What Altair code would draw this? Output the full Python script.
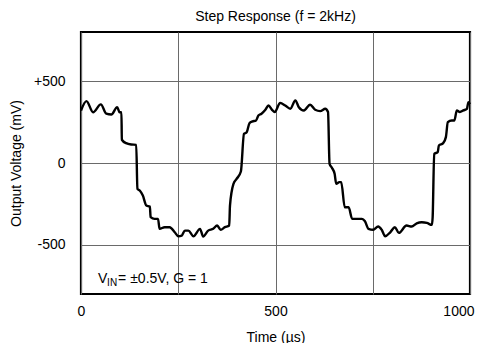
import altair as alt
import pandas as pd

# Time (µs) and output voltage (mV)
time_us = [0, 14, 31, 51, 65, 78, 93, 99, 104, 105, 116, 129, 142, 145, 151, 159, 168, 177, 179, 189,
           198, 202, 215, 228, 241, 250, 259, 267, 276, 289, 306, 314, 327, 340, 350, 359, 370, 381, 383, 392,
           400, 411, 419, 426, 433, 441, 450, 456, 464, 474, 482, 491, 498, 512, 525, 538, 551, 560, 573, 589,
           602, 615, 628, 635, 639, 645, 652, 656, 664, 669, 678, 688, 697, 710, 722, 730, 739, 751, 764, 773,
           782, 795, 807, 817, 837, 850, 863, 876, 889, 902, 904, 908, 917, 920, 931, 938, 943, 953, 960, 966,
           974, 983, 992, 996, 1000]
volt_mv = [320, 378, 310, 358, 301, 296, 341, 310, 310, 142, 121, 113, 111, -158, -168, -199, -260, -266, -331, -341,
           -341, -402, -392, -392, -423, -447, -443, -413, -413, -447, -402, -449, -413, -402, -382, -408, -392, -382, -260, -127,
           -97, -52, 178, 188, 243, 254, 260, 290, 301, 325, 351, 325, 311, 366, 351, 331, 382, 341, 321, 356,
           325, 317, 331, 311, -5, -29, -66, -127, -117, -117, -270, -270, -341, -341, -341, -356, -402, -408, -388, -408,
           -447, -423, -392, -427, -382, -388, -368, -362, -366, -378, -331, 56, 66, 107, 121, 158, 249, 260, 260, 321,
           311, 321, 331, 372, 360]

x_ticks = [0, 250, 500, 750, 1000]
y_ticks = [-500, 0, 500]

# annotation anchor (data coordinates)
note_t = [44]
note_v = [-706]

FONT = "Liberation Sans"

df = pd.DataFrame({"t": time_us, "v": volt_mv})
note = pd.DataFrame({"t": note_t, "v": note_v})

xscale = alt.Scale(domain=[0, 1000], nice=False, zero=False)
yscale = alt.Scale(domain=[-800, 800], nice=False, zero=False)

line = alt.Chart(df).mark_line(color="black", strokeWidth=2.4, strokeJoin="round",
                               interpolate="monotone").encode(
    x=alt.X("t:Q", scale=xscale,
            axis=alt.Axis(title="Time (µs)", values=x_ticks, format="d",
                          labelExpr="datum.value % 500 == 0 ? datum.label : ''",
                          labelAlign={"expr": "datum.value == 1000 ? 'right' : 'center'"},
                          labelOffset={"expr": "datum.value == 1000 ? 4 : 0"},
                          grid=True, gridColor="#6a6a6a", gridWidth=1,
                          domain=False, ticks=False, labelPadding=10, titlePadding=12,
                          labelFontSize=14, titleFontSize=14, labelFont=FONT, titleFont=FONT,
                          labelColor="black", titleColor="black", titleFontWeight="normal",
                          labelFlush=False)),
    y=alt.Y("v:Q", scale=yscale,
            axis=alt.Axis(title="Output Voltage (mV)", values=y_ticks,
                          labelExpr="datum.value > 0 ? '+' + datum.value : '' + datum.value",
                          grid=True, gridColor="#6a6a6a", gridWidth=1,
                          domain=False, ticks=False, labelPadding=16, titlePadding=10,
                          labelFontSize=14, titleFontSize=14, labelFont=FONT, titleFont=FONT,
                          labelColor="black", titleColor="black", titleFontWeight="normal")),
)

txt_v = alt.Chart(note).mark_text(align="left", baseline="middle", fontSize=14, font=FONT, color="black").encode(
    x="t:Q", y="v:Q", text=alt.value("V"))
txt_in = alt.Chart(note).mark_text(align="left", baseline="middle", fontSize=10, font=FONT, color="black",
                                   dx=9, dy=4).encode(x="t:Q", y="v:Q", text=alt.value("IN"))
txt_rest = alt.Chart(note).mark_text(align="left", baseline="middle", fontSize=14, font=FONT, color="black",
                                     dx=20).encode(x="t:Q", y="v:Q", text=alt.value("= ±0.5V, G = 1"))

chart = alt.layer(line, txt_v, txt_in, txt_rest).properties(
    width=389, height=262,
    title=alt.TitleParams("Step Response (f = 2kHz)", fontSize=14, font=FONT, fontWeight="normal",
                          color="black", anchor="middle", offset=8),
    autosize=alt.AutoSizeParams(type="none"),
    padding={"left": 73, "top": 24, "right": 5, "bottom": 49},
).configure_view(stroke="black", strokeWidth=2.2)

chart.save("out.html", embed_options={"renderer": "svg", "actions": False})
